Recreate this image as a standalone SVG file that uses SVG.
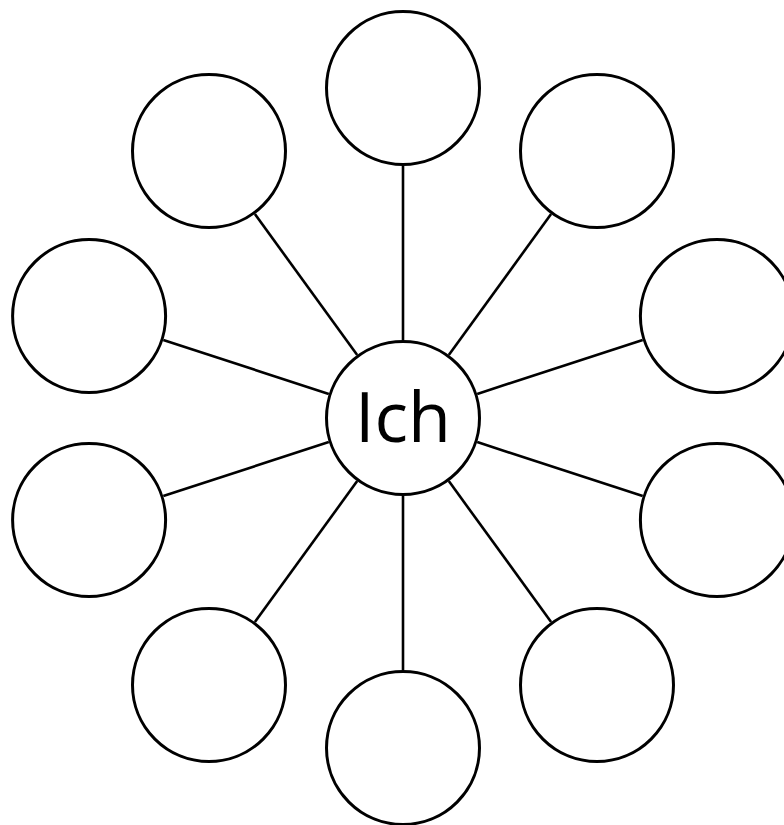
<svg xmlns="http://www.w3.org/2000/svg" width="784" height="825" viewBox="0 0 784 825">
<style>
.node{fill:#fff;stroke:#000;stroke-width:3}
.edge{stroke:#000;stroke-width:2.6;fill:none}
.label{font-family:"Open Sans","Liberation Sans",sans-serif;font-size:70px;fill:#000;text-anchor:middle}
</style>
<rect width="784" height="825" fill="#fff"/>
<g id="connectors">
<line class="edge" x1="403" y1="340" x2="403" y2="166"/>
<line class="edge" x1="448.8" y1="354.9" x2="551.1" y2="214.1"/>
<line class="edge" x1="477.2" y1="393.9" x2="642.7" y2="340.1"/>
<line class="edge" x1="477.2" y1="442.1" x2="642.7" y2="495.9"/>
<line class="edge" x1="448.8" y1="481.1" x2="551.1" y2="621.9"/>
<line class="edge" x1="403" y1="496" x2="403" y2="670"/>
<line class="edge" x1="357.2" y1="481.1" x2="254.9" y2="621.9"/>
<line class="edge" x1="328.8" y1="442.1" x2="163.3" y2="495.9"/>
<line class="edge" x1="328.8" y1="393.9" x2="163.3" y2="340.1"/>
<line class="edge" x1="357.2" y1="354.9" x2="254.9" y2="214.1"/>
</g>
<g id="center"><circle class="node" cx="403" cy="418" r="76.5"/><text class="label" x="403" y="442">Ich</text></g>
<g id="n1"><circle class="node" cx="403" cy="88" r="76.5"/></g>
<g id="n2"><circle class="node" cx="597" cy="151" r="76.5"/></g>
<g id="n3"><circle class="node" cx="716.9" cy="316" r="76.5"/></g>
<g id="n4"><circle class="node" cx="716.9" cy="520" r="76.5"/></g>
<g id="n5"><circle class="node" cx="597" cy="685" r="76.5"/></g>
<g id="n6"><circle class="node" cx="403" cy="748" r="76.5"/></g>
<g id="n7"><circle class="node" cx="209" cy="685" r="76.5"/></g>
<g id="n8"><circle class="node" cx="89.1" cy="520" r="76.5"/></g>
<g id="n9"><circle class="node" cx="89.1" cy="316" r="76.5"/></g>
<g id="n10"><circle class="node" cx="209" cy="151" r="76.5"/></g>
</svg>
